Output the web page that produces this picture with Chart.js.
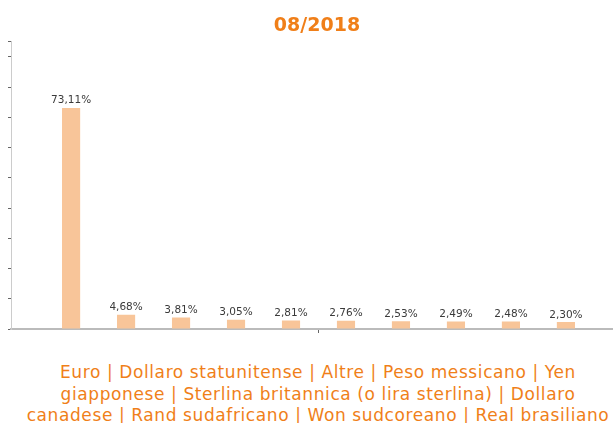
<!DOCTYPE html>
<html>
<head>
<meta charset="utf-8">
<script src="https://cdn.jsdelivr.net/npm/chart.js@4.4.0/dist/chart.umd.min.js"></script>
<style>
  html, body { margin: 0; padding: 0; background: #fff; overflow: hidden; }
  .wrap { position: relative; width: 636px; }
  #legend {
    width: 598px; margin: 29px auto 0 auto; text-align: center;
    font-family: "DejaVu Sans", Verdana, sans-serif; font-size: 17px;
    letter-spacing: 0.6px;
    line-height: 21.5px; color: #f07f19;
  }
</style>
</head>
<body>
<div class="wrap">
  <canvas id="myChart" width="636" height="333" style="display:block;width:636px;height:333px"></canvas>
  <div id="legend"></div>
</div>
<script>
const ctx = document.getElementById('myChart');
const period = '08/2018';
const currencies = ['Euro', 'Dollaro statunitense', 'Altre', 'Peso messicano', 'Yen giapponese',
  'Sterlina britannica (o lira sterlina)', 'Dollaro canadese', 'Rand sudafricano', 'Won sudcoreano', 'Real brasiliano'];
const shares = [73.11, 4.68, 3.81, 3.05, 2.81, 2.76, 2.53, 2.49, 2.48, 2.30];

const orange = '#f07f19';
const barColor = '#f8c599';

document.getElementById('legend').textContent = currencies.join(' | ');

// writes the value over each bar, italian style (comma)
const valueLabels = {
  id: 'valueLabels',
  afterDatasetsDraw(chart) {
    const c = chart.ctx;
    c.save();
    c.font = '10.5px "DejaVu Sans", Verdana, sans-serif';
    c.fillStyle = '#3a3a3a';
    c.textAlign = 'center';
    c.textBaseline = 'bottom';
    chart.data.datasets.forEach((ds, i) => {
      chart.getDatasetMeta(i).data.forEach((bar, j) => {
        c.fillText(ds.data[j].toFixed(2).replace('.', ',') + '%', bar.x, bar.y - 2);
      });
    });
    c.restore();
  }
};

new Chart(ctx, {
  type: 'bar',
  data: {
    labels: [period],
    datasets: currencies.map((name, i) => ({
      label: name,
      data: [shares[i]],
      backgroundColor: barColor,
      borderWidth: 0,
      categoryPercentage: 0.894,
      barPercentage: 0.33
    }))
  },
  options: {
    responsive: false,
    animation: false,
    layout: { padding: { left: 8, right: 10, top: 0, bottom: 0 } },
    plugins: {
      legend: { display: false },
      tooltip: { enabled: false },
      title: {
        display: true,
        text: period,
        color: orange,
        font: { family: '"DejaVu Sans", Verdana, sans-serif', size: 19, weight: 'bold' },
        padding: { top: 14.5, bottom: 4.5 }
      }
    },
    scales: {
      x: {
        grid: { display: true, drawOnChartArea: false, offset: false, tickLength: 4, color: '#666' },
        border: { color: '#bbb', width: 2 },
        ticks: { display: false }
      },
      y: {
        min: 0,
        max: 95,
        ticks: { display: false, stepSize: 10 },
        grid: { drawOnChartArea: false, tickLength: 3, color: '#666' },
        border: { color: '#ccc', width: 1 }
      }
    }
  },
  plugins: [valueLabels]
});
</script>
</body>
</html>
